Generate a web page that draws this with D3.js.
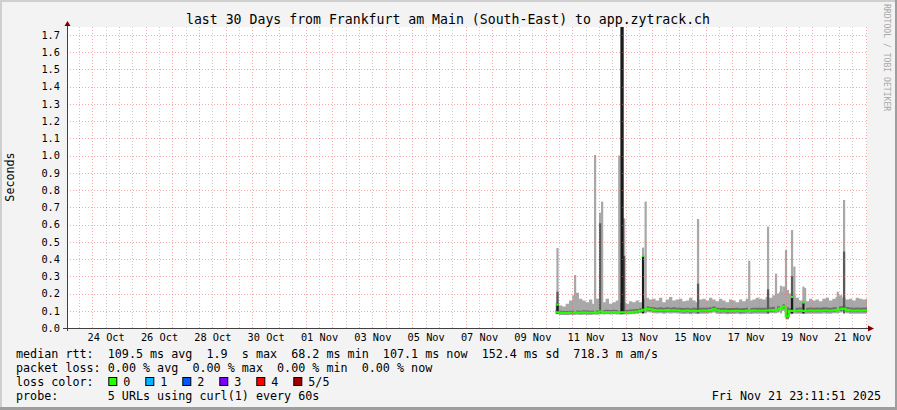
<!DOCTYPE html>
<html><head><meta charset="utf-8">
<script src="https://cdn.jsdelivr.net/npm/d3@7"></script>
<style>
body{margin:0;background:#f3f3f3}
svg{display:block}
text{font-family:'DejaVu Sans Mono',monospace;white-space:pre;fill:#000}
</style>
</head><body>
<svg id="c" width="897" height="410"></svg>
<script>
// ---------------- data ----------------
const chartTitle = "last 30 Days from Frankfurt am Main (South-East) to app.zytrack.ch";
const yAxisLabel = "Seconds";
const watermark = "RRDTOOL / TOBI OETIKER";
const yTickValues = [0.0,0.1,0.2,0.3,0.4,0.5,0.6,0.7,0.8,0.9,1.0,1.1,1.2,1.3,1.4,1.5,1.6,1.7];
const xTickLabels = ["24 Oct","26 Oct","28 Oct","30 Oct","01 Nov","03 Nov","05 Nov","07 Nov","09 Nov","11 Nov","13 Nov","15 Nov","17 Nov","19 Nov","21 Nov"];
const rangeStart = "2025-10-23T01:13:00Z";
const rangeEnd   = "2025-11-22T01:13:00Z";
const yMax = 1.745;
const binStart = "2025-11-10T09:00:00Z";
const binHours = 3;

const medianRtt = [
 0.092,0.088,0.087,0.087,0.088,
 0.088,0.089,0.088,0.090,0.089,0.088,0.089,0.090,
 0.095,0.092,0.093,0.092,0.093,0.092,0.091,0.092,
 0.092,0.093,0.094,0.096,0.100,0.106,0.112,0.108,
 0.104,0.102,0.103,0.101,0.104,0.102,0.103,0.102,
 0.100,0.099,0.101,0.098,0.100,0.099,0.100,0.101,
 0.100,0.104,0.108,0.101,0.099,0.100,0.098,0.099,
 0.099,0.100,0.098,0.099,0.100,0.099,0.101,0.100,
 0.100,0.100,0.101,0.103,0.104,0.106,0.115,0.124,
 0.068,0.098,0.100,0.100,0.101,0.099,0.100,0.101,
 0.100,0.101,0.100,0.102,0.101,0.100,0.103,0.104,
 0.108,0.112,0.104,0.101,0.100,0.101,0.100,0.101,
 0.101];
const smokeDarkHigh = [
 0.105,0.100,0.098,0.099,0.100,
 0.100,0.102,0.100,0.103,0.101,0.100,0.102,0.103,
 0.108,0.105,0.106,0.104,0.106,0.105,0.104,0.105,
 0.105,0.107,0.108,0.110,0.114,0.120,0.126,0.122,
 0.120,0.118,0.120,0.117,0.121,0.118,0.120,0.118,
 0.117,0.116,0.118,0.115,0.117,0.116,0.117,0.118,
 0.117,0.121,0.125,0.118,0.116,0.117,0.115,0.116,
 0.116,0.117,0.115,0.116,0.117,0.116,0.118,0.117,
 0.117,0.118,0.119,0.121,0.123,0.126,0.128,0.138,
 0.120,0.114,0.118,0.118,0.119,0.117,0.118,0.119,
 0.118,0.119,0.118,0.120,0.119,0.118,0.121,0.122,
 0.126,0.130,0.122,0.119,0.118,0.119,0.118,0.119,
 0.119];
const smokeDarkLow = [
 0.084,0.081,0.080,0.080,0.081,
 0.081,0.082,0.081,0.083,0.082,0.081,0.082,0.083,
 0.087,0.085,0.086,0.085,0.086,0.085,0.084,0.085,
 0.085,0.086,0.087,0.089,0.092,0.097,0.102,0.099,
 0.095,0.093,0.094,0.092,0.095,0.093,0.094,0.093,
 0.091,0.090,0.092,0.089,0.091,0.090,0.091,0.092,
 0.091,0.095,0.099,0.092,0.090,0.091,0.089,0.090,
 0.090,0.091,0.089,0.090,0.091,0.090,0.092,0.091,
 0.091,0.091,0.092,0.094,0.095,0.097,0.104,0.112,
 0.055,0.089,0.093,0.091,0.092,0.090,0.091,0.092,
 0.091,0.092,0.091,0.093,0.092,0.091,0.094,0.095,
 0.099,0.103,0.095,0.092,0.091,0.092,0.091,0.092,
 0.092];
const smokeLightHigh = [
 0.150,0.130,0.125,0.140,0.160,
 0.190,0.205,0.170,0.160,0.150,0.165,0.140,0.170,
 0.160,0.150,0.170,0.140,0.150,0.160,0.145,0.150,
 0.140,0.155,0.150,0.160,0.150,0.170,0.175,0.165,
 0.170,0.160,0.175,0.150,0.165,0.180,0.160,0.165,
 0.170,0.155,0.160,0.175,0.160,0.150,0.165,0.170,
 0.160,0.175,0.165,0.155,0.170,0.160,0.150,0.165,
 0.160,0.150,0.165,0.155,0.170,0.160,0.165,0.175,
 0.170,0.165,0.180,0.175,0.190,0.200,0.210,0.240,
 0.220,0.200,0.190,0.175,0.160,0.165,0.155,0.170,
 0.160,0.165,0.155,0.170,0.175,0.160,0.170,0.180,
 0.190,0.175,0.165,0.170,0.160,0.175,0.170,0.165,
 0.170];
const smokeLightLow = [
 0.080,0.076,0.075,0.075,0.076,
 0.076,0.077,0.076,0.077,0.076,0.076,0.077,0.077,
 0.080,0.078,0.079,0.078,0.079,0.078,0.077,0.078,
 0.078,0.079,0.080,0.082,0.085,0.088,0.092,0.090,
 0.086,0.084,0.085,0.083,0.086,0.084,0.085,0.084,
 0.082,0.081,0.083,0.080,0.082,0.081,0.082,0.083,
 0.082,0.086,0.090,0.083,0.081,0.082,0.080,0.081,
 0.081,0.082,0.080,0.081,0.082,0.081,0.083,0.082,
 0.082,0.082,0.083,0.085,0.086,0.088,0.094,0.100,
 0.050,0.080,0.084,0.082,0.083,0.081,0.082,0.083,
 0.082,0.083,0.082,0.084,0.083,0.082,0.085,0.086,
 0.090,0.094,0.086,0.083,0.082,0.083,0.082,0.083,
 0.083];

// individual spikes
const spikeTimes  = ["2025-11-10T10:40Z","2025-11-11T02:30Z","2025-11-11T20:30Z","2025-11-12T01:00Z","2025-11-12T02:50Z","2025-11-12T18:15Z","2025-11-12T20:15Z","2025-11-12T21:15Z","2025-11-12T22:40Z","2025-11-13T15:40Z","2025-11-13T18:00Z","2025-11-15T17:10Z","2025-11-17T15:15Z","2025-11-18T08:10Z","2025-11-18T15:20Z","2025-11-18T19:50Z","2025-11-19T00:20Z","2025-11-19T05:45Z","2025-11-19T07:50Z","2025-11-19T16:00Z","2025-11-19T17:30Z","2025-11-20T22:55Z","2025-11-21T04:35Z"];
const spikeLight  = [0.464,0.307,1.003,0.669,0.733,1.000,null,null,0.636,0.466,0.733,0.632,0.390,0.588,0.315,0.245,0.452,0.568,0.356,0.240,0.232,0.210,0.742];
const spikeDark   = [0.210,null,null,0.607,null,null,null,null,0.418,null,null,0.257,null,0.224,null,null,null,0.300,null,null,null,null,0.443];
const spikeBlack  = [0.135,null,null,null,null,null,1.900,1.900,null,0.418,null,null,null,null,null,null,null,0.180,null,0.147,null,null,null];
const spikeMedian = [0.135,null,null,null,null,null,1.900,1.900,null,0.418,null,null,null,null,null,null,null,0.180,null,0.147,null,null,null];

const legendRtt  = "median rtt:  109.5 ms avg  1.9  s max  68.2 ms min  107.1 ms now  152.4 ms sd  718.3 m am/s";
const legendLoss = "packet loss: 0.00 % avg  0.00 % max  0.00 % min  0.00 % now";
const lossLabel  = "loss color:";
const lossNames  = ["0","1","2","3","4","5/5"];
const lossColors = ["#26ff00","#00b8ff","#0059ff","#7e00ff","#ff0000","#a10000"];
const probeText  = "probe:       5 URLs using curl(1) every 60s";
const stampText  = "Fri Nov 21 23:11:51 2025";

// ---------------- drawing ----------------
const W = 897, H = 410;
const L = 67, R = 867, T = 27, B = 328;
const svg = d3.select("#c");

svg.append("rect").attr("width",W).attr("height",H).attr("fill","#f3f3f3");
svg.append("rect").attr("x",0).attr("y",0).attr("width",W).attr("height",2).attr("fill","#cfcfcf");
svg.append("rect").attr("x",0).attr("y",0).attr("width",2).attr("height",H).attr("fill","#cfcfcf");
svg.append("rect").attr("x",0).attr("y",H-3).attr("width",W).attr("height",3).attr("fill","#9e9e9e");
svg.append("rect").attr("x",W-2).attr("y",0).attr("width",2).attr("height",H).attr("fill","#9e9e9e");

svg.append("rect").attr("x",L).attr("y",T).attr("width",R-L).attr("height",B-T).attr("fill","#ffffff");

const x = d3.scaleUtc().domain([new Date(rangeStart), new Date(rangeEnd)]).range([L,R]);
const y = d3.scaleLinear().domain([0,yMax]).range([B,T]);

svg.append("clipPath").attr("id","pc").append("rect").attr("x",L).attr("y",T).attr("width",R-L).attr("height",B-T);
const plot = svg.append("g").attr("clip-path","url(#pc)");

const t0 = new Date(binStart);
const bins = medianRtt.map((m,i)=>({
  t: new Date(+t0 + i*binHours*3600e3), m,
  dh: smokeDarkHigh[i], dl: smokeDarkLow[i], lh: smokeLightHigh[i], ll: smokeLightLow[i]
}));
bins.push(Object.assign({}, bins[bins.length-1], {t: new Date(rangeEnd)}));

const lightArea = d3.area().x(d=>x(d.t)).y0(d=>y(d.ll)).y1(d=>y(d.lh)).curve(d3.curveStepAfter);
const darkArea  = d3.area().x(d=>x(d.t)).y0(d=>y(d.dl)).y1(d=>y(d.dh)).curve(d3.curveStepAfter);
plot.append("path").attr("d",lightArea(bins)).attr("fill","#a8a8a8");
plot.append("path").attr("d",darkArea(bins)).attr("fill","#6e6e6e");

const spikes = spikeTimes.map((s,i)=>({t:new Date(s), light:spikeLight[i], dark:spikeDark[i], black:spikeBlack[i], med:spikeMedian[i]}));
const spikeBase = 0.085;
const sx0 = d=>x(new Date(+d.t - 3600e3));
const sw  = d=>x(new Date(+d.t + 3600e3)) - x(new Date(+d.t - 3600e3));
[["light","#a8a8a8"],["dark","#5a5a5a"],["black","#1c1c1c"]].forEach(([k,c])=>{
  plot.selectAll(null).data(spikes.filter(d=>d[k]!=null)).enter().append("rect")
    .attr("x",sx0).attr("width",sw)
    .attr("y",d=>y(d[k])).attr("height",d=>y(spikeBase)-y(d[k]))
    .attr("fill",c);
});

const medLine = d3.line().x(d=>x(d.t)).y(d=>y(d.m)).curve(d3.curveStepAfter);
plot.append("path").attr("d",medLine(bins)).attr("fill","none").attr("stroke","#26ff00").attr("stroke-width",2);
plot.selectAll(null).data(spikes.filter(d=>d.med!=null)).enter().append("rect")
  .attr("x",sx0).attr("width",sw).attr("y",d=>y(d.med)-1).attr("height",2).attr("fill","#26ff00");

// grid (drawn over data, like rrdtool)
const grid = svg.append("g");
const days = d3.utcDay.range(new Date(rangeStart), new Date(rangeEnd));
const halfDays = d3.utcHour.every(12).range(new Date(rangeStart), new Date(rangeEnd)).filter(d=>d.getUTCHours()===12);
grid.selectAll(null).data(halfDays).enter().append("line")
  .attr("x1",d=>Math.round(x(d))+0.5).attr("x2",d=>Math.round(x(d))+0.5).attr("y1",T).attr("y2",B)
  .attr("stroke","rgba(150,150,150,0.5)").attr("stroke-dasharray","1,2");
grid.selectAll(null).data(days).enter().append("line")
  .attr("x1",d=>Math.round(x(d))+0.5).attr("x2",d=>Math.round(x(d))+0.5).attr("y1",T).attr("y2",B)
  .attr("stroke","rgba(240,100,100,0.55)").attr("stroke-dasharray","1,2");
grid.selectAll(null).data(yTickValues.filter(v=>v>0)).enter().append("line")
  .attr("x1",L).attr("x2",R).attr("y1",d=>Math.round(y(d))+0.5).attr("y2",d=>Math.round(y(d))+0.5)
  .attr("stroke","rgba(240,100,100,0.55)").attr("stroke-dasharray","1,2");

// axes
const yAxis = d3.axisLeft(y).tickValues(yTickValues).tickFormat(d3.format(".1f")).tickSize(0).tickPadding(7);
const gy = svg.append("g").attr("transform",`translate(${L},0)`).call(yAxis);
gy.select(".domain").remove();
gy.selectAll("text").attr("font-size","10.3px").attr("font-family","'DejaVu Sans Mono',monospace").attr("fill","#000");

const xTickDates = xTickLabels.map(s=>{
  const d = d3.utcParse("%d %b %Y")(s + " 2025");
  return new Date(+d + 12*3600e3);
});
const xAxis = d3.axisBottom(x).tickValues(xTickDates).tickFormat((d,i)=>xTickLabels[i]).tickSize(0).tickPadding(6);
const gx = svg.append("g").attr("transform",`translate(0,${B})`).call(xAxis);
gx.select(".domain").remove();
gx.selectAll("text").attr("font-size","10.3px").attr("font-family","'DejaVu Sans Mono',monospace").attr("fill","#000");

svg.append("line").attr("x1",L-4).attr("x2",R+1).attr("y1",B+0.5).attr("y2",B+0.5).attr("stroke","#404040");
svg.append("line").attr("x1",L+0.5).attr("x2",L+0.5).attr("y1",B+3).attr("y2",T-1).attr("stroke","#404040");
svg.append("path").attr("d",`M${L-2.5},${T-1}L${L+3.5},${T-1}L${L+0.5},${T-6}Z`).attr("fill","#800000");
svg.append("path").attr("d",`M${R+1},${B-2.5}L${R+1},${B+3.5}L${R+7},${B+0.5}Z`).attr("fill","#800000");

// titles
svg.append("text").attr("x",448).attr("y",24).attr("text-anchor","middle").attr("font-size","13.2px").text(chartTitle);
svg.append("text").attr("transform","translate(14,177) rotate(-90)").attr("text-anchor","middle").attr("font-size","11.7px").text(yAxisLabel);
svg.append("text").attr("transform","translate(883.5,4) rotate(90)").attr("font-size","8.1px").style("fill","#a8a8a8").text(watermark);

// legend
const fs = "11.73px";
svg.append("text").attr("x",16).attr("y",357.5).attr("font-size",fs).text(legendRtt);
svg.append("text").attr("x",16).attr("y",371.5).attr("font-size",fs).text(legendLoss);
svg.append("text").attr("x",16).attr("y",385.5).attr("font-size",fs).text(lossLabel);
lossNames.forEach((n,i)=>{
  const bx = 108.3 + i*37;
  svg.append("rect").attr("x",bx+0.5).attr("y",377.5).attr("width",8).attr("height",8)
     .attr("fill",lossColors[i]).attr("stroke","#000").attr("stroke-width",1);
  svg.append("text").attr("x",bx+15).attr("y",385.5).attr("font-size",fs).text(n);
});
svg.append("text").attr("x",16).attr("y",399.5).attr("font-size",fs).text(probeText);
svg.append("text").attr("x",881).attr("y",399.5).attr("text-anchor","end").attr("font-size",fs).text(stampText);
</script>
</body></html>
